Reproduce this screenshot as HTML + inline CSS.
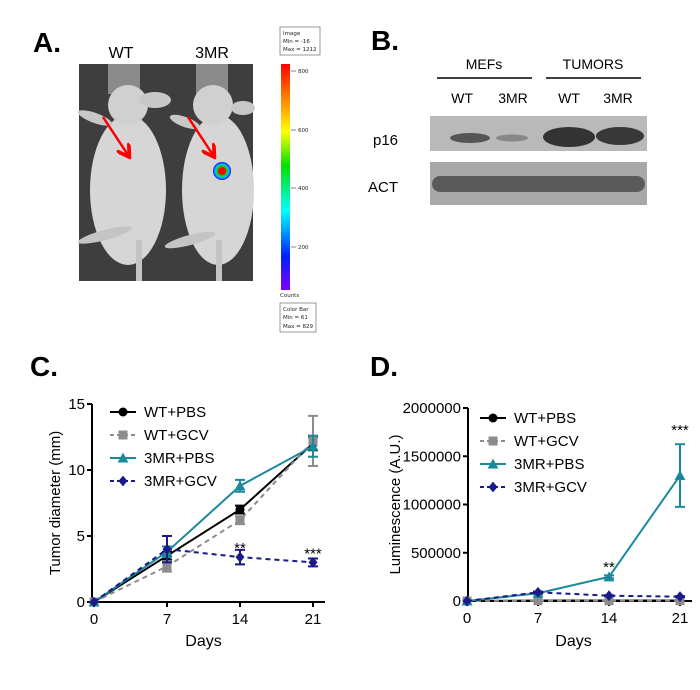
<!DOCTYPE html>
<html><head><meta charset="utf-8"><style>
html,body{margin:0;padding:0;background:#fff}
svg{display:block;font-family:"Liberation Sans",Arial,sans-serif}
</style></head><body>
<svg id="fig" width="700" height="690" viewBox="0 0 700 690">
<defs>
<linearGradient id="cb" x1="0" y1="0" x2="0" y2="1">
<stop offset="0" stop-color="#ff0000"/><stop offset="0.15" stop-color="#ff8000"/>
<stop offset="0.3" stop-color="#ffff00"/><stop offset="0.45" stop-color="#00e000"/>
<stop offset="0.65" stop-color="#00ffff"/><stop offset="0.85" stop-color="#0020ff"/>
<stop offset="1" stop-color="#8000ff"/></linearGradient>
<radialGradient id="spot"><stop offset="0.35" stop-color="#ff0000"/><stop offset="0.55" stop-color="#00e000"/><stop offset="0.75" stop-color="#00c0ff"/><stop offset="1" stop-color="#2000ff"/></radialGradient>
<marker id="arr" markerWidth="6" markerHeight="6" refX="4" refY="3" orient="auto"><path d="M0,0 L5,3 L0,6" fill="none" stroke="#f00" stroke-width="1.5"/></marker>
</defs>

<g>
<text x="33" y="52" font-size="28" font-weight="bold">A.</text>
<text x="121" y="58" font-size="16" text-anchor="middle">WT</text>
<text x="212" y="58" font-size="16" text-anchor="middle">3MR</text>
<rect x="79" y="64" width="174" height="217" fill="#3e3e3e"/>
<rect x="108" y="64" width="32" height="30" fill="#8a8a8a"/>
<rect x="196" y="64" width="32" height="30" fill="#8a8a8a"/>
<ellipse cx="128" cy="190" rx="38" ry="75" fill="#d6d6d6"/>
<ellipse cx="128" cy="105" rx="20" ry="20" fill="#d0d0d0"/>
<ellipse cx="155" cy="100" rx="16" ry="8" fill="#c8c8c8"/>
<ellipse cx="95" cy="118" rx="18" ry="5" fill="#c8c8c8" transform="rotate(20 95 118)"/>
<ellipse cx="105" cy="235" rx="28" ry="5" fill="#c4c4c4" transform="rotate(-15 105 235)"/>
<rect x="136" y="240" width="6" height="41" fill="#c4c4c4"/>
<ellipse cx="218" cy="190" rx="36" ry="75" fill="#d6d6d6"/>
<ellipse cx="213" cy="105" rx="20" ry="20" fill="#d0d0d0"/>
<ellipse cx="243" cy="108" rx="12" ry="7" fill="#c8c8c8"/>
<ellipse cx="185" cy="122" rx="16" ry="5" fill="#c8c8c8" transform="rotate(20 185 122)"/>
<ellipse cx="190" cy="240" rx="26" ry="5" fill="#c4c4c4" transform="rotate(-15 190 240)"/>
<rect x="216" y="240" width="6" height="41" fill="#c4c4c4"/>
<line x1="103" y1="117" x2="128" y2="155" stroke="#f00" stroke-width="2.5" marker-end="url(#arr)"/>
<line x1="188" y1="117" x2="213" y2="155" stroke="#f00" stroke-width="2.5" marker-end="url(#arr)"/>
<circle cx="222" cy="171" r="9" fill="url(#spot)"/>
<g font-size="5.5" fill="#222" font-family="DejaVu Sans, sans-serif">
<rect x="280" y="27" width="40" height="28" fill="#fff" stroke="#555" stroke-width="0.6"/>
<text x="283" y="35">Image</text><text x="283" y="43">Min = -16</text><text x="283" y="51">Max = 1212</text>
<rect x="281" y="64" width="9" height="226" fill="url(#cb)"/>
<line x1="291" y1="71" x2="296" y2="71" stroke="#333" stroke-width="0.6"/><text x="298" y="73">800</text>
<line x1="291" y1="130" x2="296" y2="130" stroke="#333" stroke-width="0.6"/><text x="298" y="132">600</text>
<line x1="291" y1="188" x2="296" y2="188" stroke="#333" stroke-width="0.6"/><text x="298" y="190">400</text>
<line x1="291" y1="247" x2="296" y2="247" stroke="#333" stroke-width="0.6"/><text x="298" y="249">200</text>
<text x="280" y="297">Counts</text>
<rect x="280" y="303" width="36" height="29" fill="#fff" stroke="#555" stroke-width="0.6"/>
<text x="283" y="311">Color Bar</text><text x="283" y="319">Min = 61</text><text x="283" y="328">Max = 829</text>
</g>
</g>

<g>
<text x="371" y="50" font-size="28" font-weight="bold">B.</text>
<text x="484" y="69" font-size="14" text-anchor="middle">MEFs</text>
<text x="593" y="69" font-size="14" text-anchor="middle">TUMORS</text>
<line x1="437" y1="78" x2="532" y2="78" stroke="#000" stroke-width="1.5"/>
<line x1="546" y1="78" x2="641" y2="78" stroke="#000" stroke-width="1.5"/>
<g font-size="14" text-anchor="middle">
<text x="462" y="103">WT</text><text x="513" y="103">3MR</text><text x="569" y="103">WT</text><text x="618" y="103">3MR</text>
</g>
<text x="373" y="145" font-size="15">p16</text>
<text x="368" y="192" font-size="15">ACT</text>
<rect x="430" y="116" width="217" height="35" fill="#b9b9b9"/>
<ellipse cx="470" cy="138" rx="20" ry="5" fill="#555"/>
<ellipse cx="512" cy="138" rx="16" ry="3.5" fill="#888"/>
<ellipse cx="569" cy="137" rx="26" ry="10" fill="#333"/>
<ellipse cx="620" cy="136" rx="24" ry="9" fill="#383838"/>
<rect x="430" y="162" width="217" height="43" fill="#a8a8a8"/>
<rect x="432" y="176" width="213" height="16" rx="8" fill="#5a5a5a"/>
</g>

<g id="chartC">
<text x="30" y="376" font-size="28" font-weight="bold">C.</text>
</g>
<g id="chartD">
<text x="370" y="376" font-size="28" font-weight="bold">D.</text>
</g>
</svg>
<script>
const days = [0, 7, 14, 21];
const seriesNames = ["WT+PBS", "WT+GCV", "3MR+PBS", "3MR+GCV"];
const cWtPbs = [0, 3.5, 7.0, 12.0];
const cWtPbsErr = [0, 0.3, 0.3, 0.5];
const cWtGcv = [0, 2.7, 6.2, 12.2];
const cWtGcvErr = [0, 0.4, 0.3, 1.9];
const c3mrPbs = [0, 3.8, 8.8, 11.8];
const c3mrPbsErr = [0, 0.4, 0.45, 0.8];
const c3mrGcv = [0, 4.0, 3.4, 3.0];
const c3mrGcvErr = [0, 1.0, 0.55, 0.3];
const cTicks = [0, 5, 10, 15];
const dWtPbs = [0, 5000, 5000, 5000];
const dWtGcv = [0, 3000, 3000, 3000];
const d3mrPbs = [0, 80000, 250000, 1300000];
const d3mrPbsErr = [0, 10000, 15000, 325000];
const d3mrGcv = [0, 90000, 55000, 45000];
const d3mrGcvErr = [0, 8000, 5000, 5000];
const dTicks = [0, 500000, 1000000, 1500000, 2000000];
const dayTicks = [0, 7, 14, 21];
const cStars = [["**", 14, 3.7], ["***", 21, 3.3]];
const dStars = [["**", 14, 300000], ["***", 21, 1720000]];

const NS = "http://www.w3.org/2000/svg";
function mk(parent, tag, attrs, text) {
  const e = document.createElementNS(NS, tag);
  for (const k in attrs) e.setAttribute(k, attrs[k]);
  if (text !== undefined) e.textContent = text;
  parent.appendChild(e);
  return e;
}
const styles = [
  {color: "#000", dash: "", marker: "circle"},
  {color: "#8c8c8c", dash: "5,4", marker: "square"},
  {color: "#1a8a9a", dash: "", marker: "triangle"},
  {color: "#1a1a8a", dash: "5,4", marker: "diamond"}
];
function marker(g, type, x, y, color, s) {
  let e;
  if (type === "circle") e = mk(g, "circle", {cx: x, cy: y, r: s});
  else if (type === "square") e = mk(g, "rect", {x: x - s, y: y - s, width: 2 * s, height: 2 * s});
  else if (type === "triangle") e = mk(g, "polygon", {points: `${x},${y - s * 1.2} ${x - s * 1.2},${y + s} ${x + s * 1.2},${y + s}`});
  else e = mk(g, "polygon", {points: `${x},${y - s * 1.2} ${x + s},${y} ${x},${y + s * 1.2} ${x - s},${y}`});
  e.setAttribute("fill", color);
  
  
  return e;
}
function drawChart(g, cfg) {
  const sx = d => cfg.x0 + (d - 0) / 21 * (cfg.x1 - cfg.x0);
  const sy = v => cfg.y0 - v / cfg.ymax * (cfg.y0 - cfg.y1);
  const ax = mk(g, "path", {d: `M${cfg.ax},${cfg.y1} V${cfg.y0} H${cfg.axEnd}`, fill: "none", stroke: "#000", "stroke-width": 2});
  
  
  cfg.ticks.forEach(t => {
    mk(g, "line", {x1: cfg.ax - 5, x2: cfg.ax, y1: sy(t), y2: sy(t), stroke: "#000", "stroke-width": 2});
    const tl = mk(g, "text", {x: cfg.ax - 7, y: sy(t) + 5, "font-size": 15, "text-anchor": "end"}, t);
    
    
  });
  dayTicks.forEach(d => {
    mk(g, "line", {x1: sx(d), x2: sx(d), y1: cfg.y0, y2: cfg.y0 + 5, stroke: "#000", "stroke-width": 2});
    const tl = mk(g, "text", {x: sx(d), y: cfg.y0 + 22, "font-size": 15, "text-anchor": "middle"}, d);
    
    
  });
  const xt = mk(g, "text", {x: (cfg.x0 + cfg.x1) / 2, y: 646, "font-size": 16, "text-anchor": "middle"}, "Days");
  
  
  const yc = (cfg.y0 + cfg.y1) / 2;
  const yt = mk(g, "text", {x: cfg.ytx, y: yc, "font-size": 15, "text-anchor": "middle", transform: `rotate(-90 ${cfg.ytx} ${yc})`}, cfg.ytitle);
  
  
  cfg.series.forEach((vals, i) => {
    const st = styles[i];
    const sg = mk(g, "g", {});
    
    
    const pts = vals.map((v, j) => `${sx(days[j])},${sy(v)}`).join(" ");
    mk(sg, "polyline", {points: pts, fill: "none", stroke: st.color, "stroke-width": 2, "stroke-dasharray": st.dash});
    const errs = cfg.errs[i];
    vals.forEach((v, j) => {
      const e = errs ? errs[j] : 0;
      if (e > 0) {
        const x = sx(days[j]);
        mk(sg, "path", {d: `M${x},${sy(v - e)} V${sy(v + e)} M${x - 5},${sy(v - e)} h10 M${x - 5},${sy(v + e)} h10`, stroke: st.color, "stroke-width": 2, fill: "none"});
      }
      marker(sg, st.marker, sx(days[j]), sy(v), st.color, 4.5);
    });
  });
  cfg.stars.forEach(s => {
    const t = mk(g, "text", {x: sx(s[1]), y: sy(s[2]), "font-size": 15, "text-anchor": "middle"}, s[0]);
    
    
  });
  seriesNames.forEach((n, i) => {
    const st = styles[i];
    const y = cfg.legY + i * 23;
    const lg = mk(g, "g", {});
    
    
    mk(lg, "line", {x1: cfg.legX, x2: cfg.legX + 26, y1: y, y2: y, stroke: st.color, "stroke-width": 2, "stroke-dasharray": st.dash ? "4,3" : ""});
    marker(lg, st.marker, cfg.legX + 13, y, st.color, 4.5);
    mk(lg, "text", {x: cfg.legX + 34, y: y + 5, "font-size": 15}, n);
  });
}
drawChart(document.getElementById("chartC"), {
  x0: 94, x1: 313, y0: 602, y1: 404, ax: 92, axEnd: 325, ymax: 15,
  ticks: cTicks, ytitle: "Tumor diameter (mm)", ytx: 60,
  series: [cWtPbs, cWtGcv, c3mrPbs, c3mrGcv],
  errs: [cWtPbsErr, cWtGcvErr, c3mrPbsErr, c3mrGcvErr],
  stars: cStars, legX: 110, legY: 412
});
drawChart(document.getElementById("chartD"), {
  x0: 467, x1: 680, y0: 601, y1: 408, ax: 468, axEnd: 692, ymax: 2000000,
  ticks: dTicks, ytitle: "Luminescence (A.U.)", ytx: 400,
  series: [dWtPbs, dWtGcv, d3mrPbs, d3mrGcv],
  errs: [null, null, d3mrPbsErr, d3mrGcvErr],
  stars: dStars, legX: 480, legY: 418
});
</script>
</body></html>
